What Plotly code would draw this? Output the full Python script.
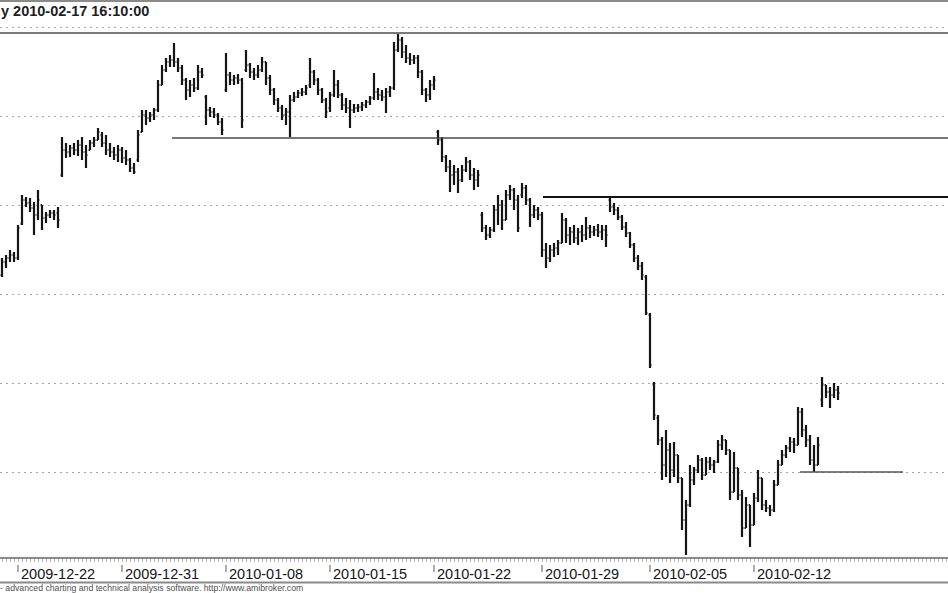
import plotly.graph_objects as go

# ---------------- data ----------------
HIGH = [342,345,350,348,375,405,403,402,398,410,
        395,388,390,390,393,463,457,455,457,460,
        463,455,460,463,472,468,465,457,453,455,
        453,450,442,437,470,490,490,488,492,520,
        535,542,545,557,542,535,522,520,522,535,
        532,505,493,492,487,482,547,528,525,526,
        522,550,537,532,535,543,538,525,512,502,
        495,492,505,508,510,512,515,542,530,522,
        512,502,508,530,520,507,502,500,496,496,
        498,500,504,527,512,510,512,514,558,567,
        563,555,547,545,545,530,512,520,524,470,
        463,445,440,435,432,435,443,440,432,430,
        388,375,373,395,405,400,410,415,412,405,
        417,415,402,395,393,388,357,355,357,360,
        387,382,373,375,372,375,383,375,374,376,
        375,375,403,397,393,385,378,368,357,345,
        338,325,287,218,185,163,170,157,158,145,
        122,100,135,133,145,142,143,143,140,160,
        165,160,150,148,132,110,103,95,107,130,
        122,100,95,120,140,150,155,163,162,193,
        192,175,165,155,163,223,215,213,217,214]

LOW = [323,332,338,338,340,375,393,388,365,380,
       370,377,382,380,372,423,442,443,445,444,
       440,432,450,453,460,453,445,443,440,438,
       437,435,428,426,438,468,475,478,480,488,
       515,528,533,533,528,515,500,503,508,510,
       522,475,483,482,475,465,508,515,515,516,
       472,528,522,520,522,528,515,505,495,488,
       480,475,463,498,502,504,505,512,515,505,
       497,482,488,503,502,490,487,472,487,488,
       489,492,495,500,500,499,487,503,510,548,
       542,537,535,536,522,505,498,500,510,455,
       438,428,408,415,407,418,428,420,410,413,
       368,360,362,368,375,370,380,400,390,368,
       402,395,373,382,380,343,332,338,343,345,
       357,357,355,357,355,358,360,362,364,363,
       360,353,388,385,380,370,363,352,338,330,
       320,285,232,180,155,120,123,117,123,117,
       70,45,93,115,127,120,125,130,127,137,
       150,145,100,108,100,63,72,53,75,98,
       90,88,84,88,115,135,142,148,147,155,
       163,153,135,128,135,193,202,192,202,200]

OPEN = [325,338,342,345,342,376,400,397,392,385,
        395,382,385,387,387,425,450,448,452,450,
        455,448,450,457,460,465,457,450,448,445,
        450,442,440,432,440,468,485,482,485,490,
        515,530,538,540,538,532,520,510,515,512,
        528,503,490,488,485,478,510,525,520,522,
        520,530,535,528,525,530,538,522,510,500,
        492,485,488,500,503,507,508,515,528,520,
        510,500,492,505,515,505,495,492,490,492,
        493,495,498,502,508,505,503,508,512,550,
        560,548,542,540,542,528,510,505,515,468,
        460,443,433,425,428,420,430,438,425,420,
        385,372,365,370,390,395,380,405,410,400,
        405,412,400,385,390,385,350,342,350,352,
        357,380,365,368,362,368,365,372,368,370,
        368,370,400,393,390,383,373,367,355,342,
        334,323,285,216,182,160,135,150,130,145,
        122,80,95,120,130,140,125,138,135,138,
        155,160,150,108,132,105,72,95,75,102,
        122,95,92,90,115,135,145,152,158,155,
        188,170,160,140,135,200,215,208,205,210]

CLOSE = [338,342,345,342,372,400,397,392,385,400,
         382,385,387,385,380,450,448,452,450,455,
         448,445,457,460,468,457,450,448,445,450,
         442,440,432,428,465,485,482,485,490,515,
         530,538,540,538,532,520,510,515,512,528,
         525,490,488,485,478,470,525,520,522,520,
         480,535,528,525,530,538,522,510,500,492,
         485,488,500,503,507,508,512,528,520,510,
         500,488,505,515,505,495,492,490,492,493,
         495,498,502,508,505,503,508,512,550,560,
         548,542,540,542,528,510,505,515,520,460,
         443,433,425,428,420,430,438,425,420,425,
         372,365,370,390,395,380,405,410,400,372,
         412,400,385,390,385,350,342,350,352,357,
         380,365,368,362,368,365,372,368,370,368,
         370,365,393,390,383,373,367,355,342,334,
         325,287,235,185,160,135,150,130,145,122,
         80,95,120,130,140,125,138,135,138,155,
         160,150,108,132,105,72,95,75,102,122,
         95,92,90,115,135,145,152,158,155,188,
         170,160,140,135,155,215,208,205,210,207]

BAR_INDEX = list(range(len(OPEN)))

# date labels: first bar of each labelled session
TICK_POS = [4, 30, 56, 82, 108, 135, 162, 188]
TICK_TEXT = ["2009-12-22", "2009-12-31", "2010-01-08", "2010-01-15",
             "2010-01-22", "2010-01-29", "2010-02-05", "2010-02-12"]

# horizontal study lines (price level, start bar, end bar)
LEVEL_VALUE = [567, 462, 403, 128]
LEVEL_FROM = [-5, 42.5, 135.25, 199.5]
LEVEL_TO = [245, 245, 245, 225.25]

GRID_START = 128
GRID_STEP = 89

TITLE = "y 2010-02-17 16:10:00"
FOOTER = "- advanced charting and technical analysis software. http://www.amibroker.com"

# ---------------- styles ----------------
BAR_COLOR = "#151515"
LEVEL_COLOR = ["#7a7a7a", "#4a4a4a", "#111111", "#555555"]
LEVEL_WIDTH = [2, 1.6, 2.2, 1.6]
FONT = "Liberation Sans, Arial, sans-serif"

PLOT_TOP = 2
PLOT_BOTTOM = 557
PLOT_H = PLOT_BOTTOM - PLOT_TOP


def py(px):
    """pixel row below/above plot -> paper y"""
    return (PLOT_BOTTOM - px) / PLOT_H


fig = go.Figure()

fig.add_trace(go.Ohlc(
    x=BAR_INDEX, open=OPEN, high=HIGH, low=LOW, close=CLOSE,
    increasing=dict(line=dict(color=BAR_COLOR, width=2.2)),
    decreasing=dict(line=dict(color=BAR_COLOR, width=2.2)),
    tickwidth=0.35, hoverinfo="skip", showlegend=False,
))

for v, a, b, c, w in zip(LEVEL_VALUE, LEVEL_FROM, LEVEL_TO, LEVEL_COLOR, LEVEL_WIDTH):
    fig.add_trace(go.Scatter(x=[a, b], y=[v, v], mode="lines",
                             line=dict(color=c, width=w),
                             hoverinfo="skip", showlegend=False))

annotations = [
    dict(text=TITLE, xref="paper", yref="paper", x=0, y=py(11), xanchor="left",
         yanchor="middle", xshift=-1, showarrow=False,
         font=dict(family=FONT, size=14.5, color="#1e1e1e", weight="bold")),
    dict(text=FOOTER, xref="paper", yref="paper", x=0, y=py(588), xanchor="left",
         yanchor="middle", xshift=-2, showarrow=False,
         font=dict(family=FONT, size=8.7, color="#505050")),
]
shapes = [
    dict(type="line", xref="paper", yref="paper", x0=0, x1=1, y0=py(582.5), y1=py(582.5),
         line=dict(color="#8a8a8a", width=2)),
]
for pos, txt in zip(TICK_POS, TICK_TEXT):
    annotations.append(dict(text=txt, xref="x", yref="paper", x=pos, y=py(574),
                            xanchor="left", yanchor="middle", xshift=1, showarrow=False,
                            font=dict(family=FONT, size=14.5, color="#151515")))
    shapes.append(dict(type="line", xref="x", yref="paper", x0=pos, x1=pos,
                       y0=py(565), y1=py(572), line=dict(color="#555555", width=1)))

fig.update_layout(
    width=948, height=593,
    margin=dict(l=0, r=0, t=PLOT_TOP, b=593 - PLOT_BOTTOM, pad=0),
    paper_bgcolor="white", plot_bgcolor="white",
    showlegend=False,
    annotations=annotations, shapes=shapes,
    xaxis=dict(range=[-0.5, 236.5], showgrid=False, zeroline=False,
               showline=True, linecolor="#8a8a8a", linewidth=2, mirror=True,
               tickmode="array", tickvals=TICK_POS, ticks="", showticklabels=False,
               rangeslider=dict(visible=False), fixedrange=True,
               minor=dict(tickmode="linear", tick0=0, dtick=1, ticks="outside",
                          ticklen=3, tickwidth=1, tickcolor="#b5b5b5")),
    yaxis=dict(range=[43, 598], showgrid=True, gridcolor="#a5a5a5", gridwidth=1,
               griddash="2px,4px", tickmode="linear", tick0=GRID_START, dtick=GRID_STEP,
               showticklabels=False, ticks="", zeroline=False, showline=False,
               fixedrange=True),
)

fig.write_html("out.html", config={"displayModeBar": False},
               post_script="document.body.style.margin='0';document.body.style.overflow='hidden';")
